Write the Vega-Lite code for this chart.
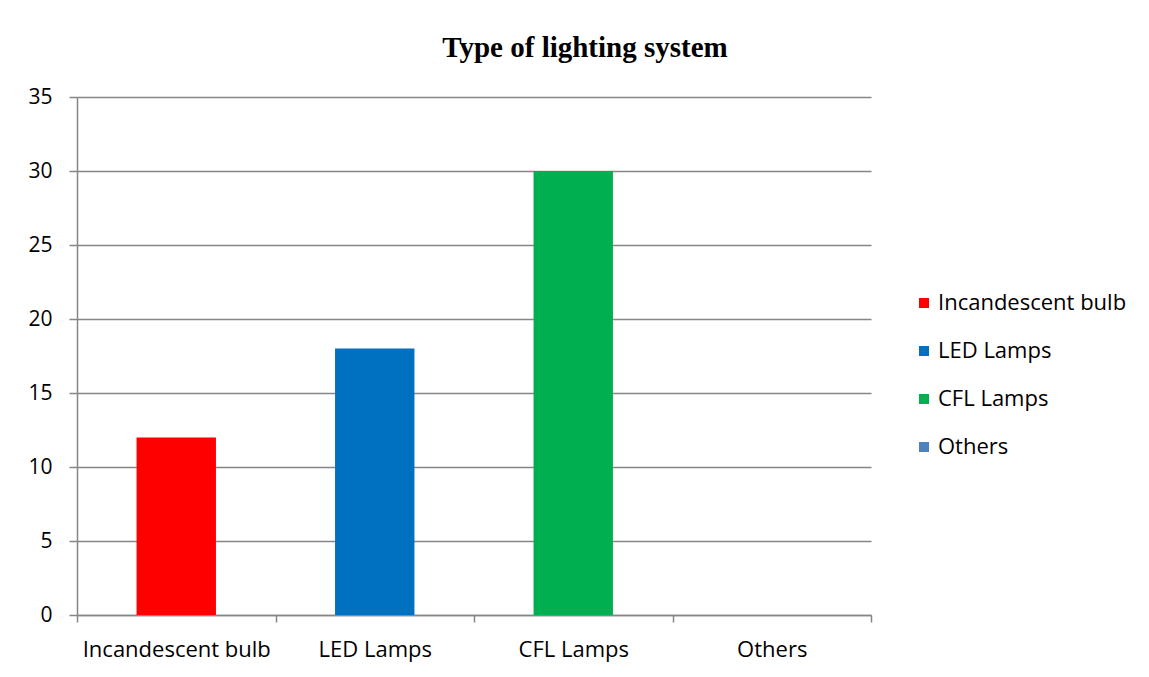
{
  "$schema": "https://vega.github.io/schema/vega-lite/v6.json",
  "width": 794,
  "height": 518,
  "autosize": {"type": "none"},
  "padding": {"left": 77, "top": 97, "right": 278, "bottom": 62},
  "background": "white",
  "title": {
    "text": "Type of lighting system",
    "font": "Liberation Serif",
    "fontSize": 29,
    "fontWeight": "bold",
    "color": "#000000",
    "anchor": "middle",
    "frame": "group",
    "dx": 111,
    "offset": 23
  },
  "data": {
    "values": [
      {"type": "Incandescent bulb", "value": 12},
      {"type": "LED Lamps", "value": 18},
      {"type": "CFL Lamps", "value": 30},
      {"type": "Others", "value": 0}
    ]
  },
  "mark": {"type": "bar", "width": {"band": 0.4}},
  "encoding": {
    "x": {
      "field": "type",
      "type": "nominal",
      "sort": null,
      "scale": {"paddingInner": 0, "paddingOuter": 0},
      "axis": {
        "title": null,
        "labelAngle": 0,
        "labelFont": "Open Sans",
        "labelFontSize": 22,
        "labelColor": "#000000",
        "labelPadding": 17,
        "labelLimit": 300,
        "tickBand": "extent",
        "tickColor": "#868686",
        "tickSize": 7,
        "tickWidth": 1.5,
        "domainColor": "#868686",
        "domainWidth": 1.5,
        "grid": false
      }
    },
    "y": {
      "field": "value",
      "type": "quantitative",
      "scale": {"domain": [0, 35]},
      "axis": {
        "title": null,
        "values": [0, 5, 10, 15, 20, 25, 30, 35],
        "labelFont": "Open Sans",
        "labelFontSize": 21,
        "labelColor": "#000000",
        "labelPadding": 17,
        "tickColor": "#868686",
        "tickSize": 8,
        "tickWidth": 1.5,
        "domainColor": "#868686",
        "domainWidth": 1.5,
        "gridColor": "#868686",
        "gridWidth": 1.5
      }
    },
    "color": {
      "field": "type",
      "type": "nominal",
      "sort": null,
      "scale": {
        "domain": ["Incandescent bulb", "LED Lamps", "CFL Lamps", "Others"],
        "range": ["#FF0000", "#0070C0", "#00B050", "#4F81BD"]
      },
      "legend": {
        "title": null,
        "orient": "none",
        "legendX": 836,
        "legendY": 195,
        "symbolType": "square",
        "symbolSize": 100,
        "symbolStrokeWidth": 0,
        "symbolOpacity": 1,
        "labelFont": "Open Sans",
        "labelFontSize": 22,
        "labelColor": "#000000",
        "labelOffset": 3,
        "labelLimit": 300,
        "rowPadding": 26
      }
    }
  },
  "config": {
    "view": {"stroke": null}
  }
}
